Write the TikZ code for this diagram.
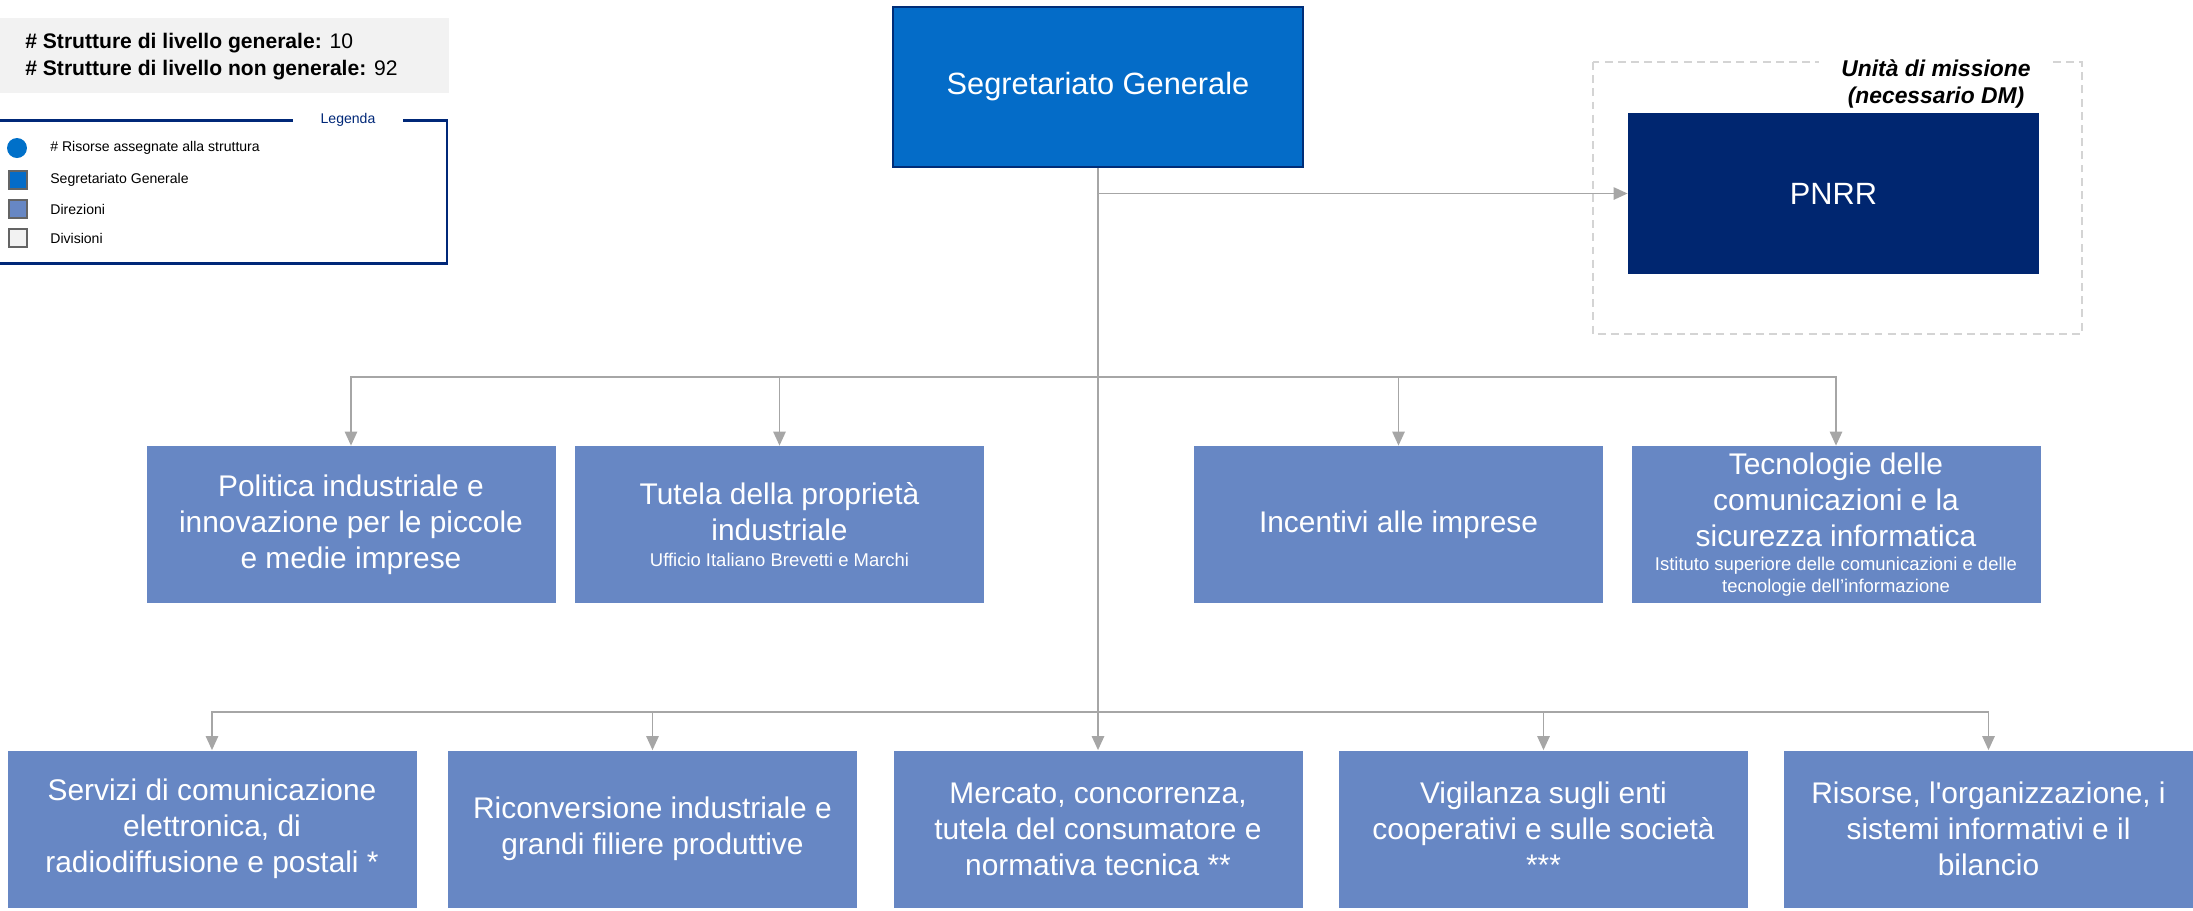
\documentclass[tikz,border=0pt]{standalone}
\usepackage{fontspec}
\setmainfont{Liberation Sans}[Ligatures=TeXOff]
\usetikzlibrary{arrows.meta,positioning}
\definecolor{sgblue}{RGB}{4,108,200}
\definecolor{sgedge}{RGB}{0,45,120}
\definecolor{pnrrblue}{RGB}{0,38,112}
\definecolor{dirblue}{RGB}{103,135,196}
\definecolor{linkgray}{RGB}{166,166,166}
\definecolor{framegray}{RGB}{212,212,212}
\definecolor{legblue}{RGB}{0,40,120}
\definecolor{boxgray}{RGB}{242,242,242}
\definecolor{dotblue}{RGB}{0,112,201}
\definecolor{swatchedge}{RGB}{100,100,100}
\newcommand{\smalltxt}{\fontsize{10.5}{12.5}\selectfont}

\begin{document}
\begin{tikzpicture}[
  link/.style={draw=linkgray, line width=1.1pt,
               -{Triangle[length=8pt,width=7pt]}},
  dir/.style={fill=dirblue, text=white, minimum width=8.18cm,
              minimum height=3.14cm, align=center, inner sep=0pt,
              font=\fontsize{17}{20.5}\selectfont},
  swatch/.style={draw=swatchedge, line width=1pt, minimum size=0.36cm,
                 inner sep=0pt, fill=#1},
  legtext/.style={anchor=west, inner sep=0pt, font=\fontsize{8}{10}\selectfont}
]
  \useasboundingbox (0,0) rectangle (43.86,-18.2);

  \fill[boxgray] (0,-0.36) rectangle (8.98,-1.86);
  \node[anchor=west, align=left, inner sep=0pt,
        font=\fontsize{12}{15.3}\selectfont] (counts) at (0.5,-1.13)
        {\textbf{\# Strutture di livello generale:} 10\\
         \textbf{\# Strutture di livello non generale:} 92};

  \draw[legblue, line width=1.7pt] (-0.3,-2.4) -| (8.94,-5.26) -- (-0.3,-5.26);
  \node[fill=white, inner xsep=0.56cm, inner ysep=1pt, text=legblue,
        font=\fontsize{8}{10}\selectfont] (legtitle) at (6.96,-2.4) {Legenda};
  \node[circle, fill=dotblue, minimum size=0.4cm, inner sep=0pt] (legdot) at (0.34,-2.96) {};
  \node[swatch=sgblue]   (legsg)  at (0.36,-3.6)  {};
  \node[swatch=dirblue]  (legdir) at (0.36,-4.18) {};
  \node[swatch=boxgray]  (legdiv) at (0.36,-4.76) {};
  \node[legtext] at (1.0,-2.96) {\# Risorse assegnate alla struttura};
  \node[legtext] at (1.0,-3.6)  {Segretariato Generale};
  \node[legtext] at (1.0,-4.18) {Direzioni};
  \node[legtext] at (1.0,-4.76) {Divisioni};

  \node[draw=sgedge, line width=1.5pt, fill=sgblue, text=white,
        minimum width=8.2cm, minimum height=3.2cm,
        font=\fontsize{17.5}{21}\selectfont] (sg) at (21.96,-1.74)
        {Segretariato Generale};

  \draw[framegray, dashed, dash pattern=on 4.5pt off 3pt, line width=1.2pt]
        (31.86,-1.24) rectangle (41.64,-6.68);
  \node[fill=white, inner xsep=0.45cm, inner ysep=1pt, align=center,
        font=\fontsize{13}{15.9}\selectfont\bfseries\itshape] (umtitle)
        at (38.72,-1.68) {Unità di missione\\(necessario DM)};
  \node[fill=pnrrblue, text=white, minimum width=8.22cm, minimum height=3.22cm,
        font=\fontsize{17.5}{21}\selectfont] (pnrr) at (36.67,-3.87) {PNRR};

  \node[dir] (politica)   at (7.02,-10.49)
        {Politica industriale e\\innovazione per le piccole\\e medie imprese};
  \node[dir] (tutela)     at (15.59,-10.49)
        {Tutela della proprietà\\industriale\\[-6pt]{\smalltxt Ufficio Italiano Brevetti e Marchi}};
  \node[dir] (incentivi)  at (27.97,-10.49) {Incentivi alle imprese};
  \node[dir] (tecnologie) at (36.72,-10.49)
        {Tecnologie delle\\comunicazioni e la\\sicurezza informatica\\[-7pt]
         {\smalltxt Istituto superiore delle comunicazioni e delle}\\[-8pt]
         {\smalltxt tecnologie dell’informazione}};

  \node[dir] (servizi)       at (4.24,-16.58)
        {Servizi di comunicazione\\elettronica, di\\radiodiffusione e postali *};
  \node[dir] (riconversione) at (13.05,-16.58)
        {Riconversione industriale e\\grandi filiere produttive};
  \node[dir] (mercato)       at (21.96,-16.58)
        {Mercato, concorrenza,\\tutela del consumatore e\\normativa tecnica **};
  \node[dir] (vigilanza)     at (30.87,-16.58)
        {Vigilanza sugli enti\\cooperativi e sulle società\\***};
  \node[dir] (risorse)       at (39.77,-16.58)
        {Risorse, l'organizzazione, i\\sistemi informativi e il\\bilancio};

  \coordinate (busA) at (21.96,-7.54);
  \coordinate (busB) at (21.96,-14.24);
  \draw[link] (sg.south) -- (mercato.north);
  \draw[link] (sg.south |- pnrr.west) -- (pnrr.west);
  \foreach \n in {politica,tutela,incentivi,tecnologie}
    \draw[link] (busA) -| (\n.north);
  \foreach \n in {servizi,riconversione,vigilanza,risorse}
    \draw[link] (busB) -| (\n.north);
\end{tikzpicture}
\end{document}
